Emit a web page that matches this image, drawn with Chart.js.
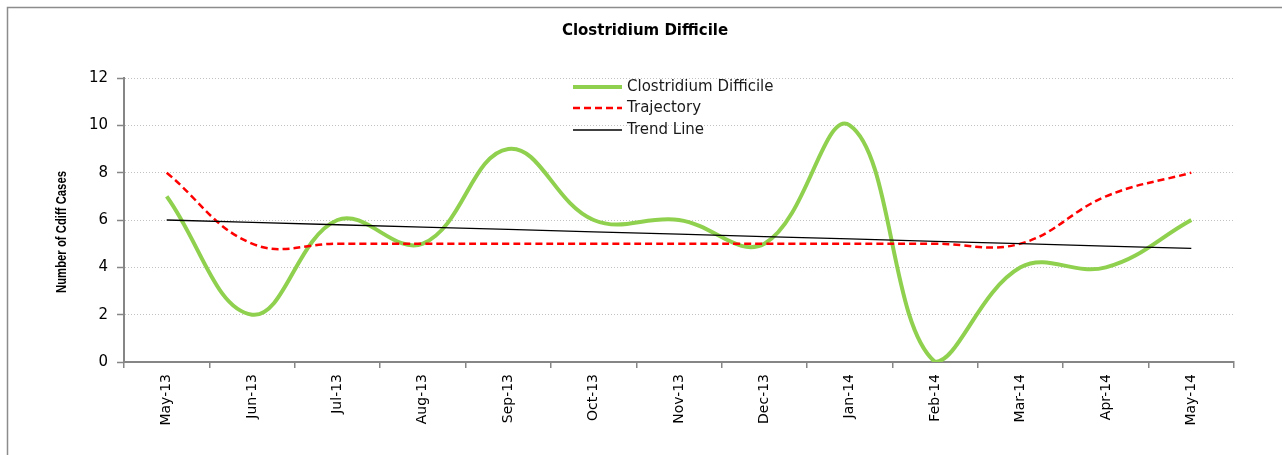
<!DOCTYPE html>
<html>
<head>
<meta charset="utf-8">
<script src="https://cdn.jsdelivr.net/npm/chart.js@4"></script>
<style>
html,body{margin:0;padding:0;background:#fff;}
#wrap{position:relative;width:1282px;height:455px;}
</style>
</head>
<body>
<div id="wrap"><canvas id="c" width="1282" height="455"></canvas></div>
<script>
const months = ["May-13","Jun-13","Jul-13","Aug-13","Sep-13","Oct-13","Nov-13","Dec-13","Jan-14","Feb-14","Mar-14","Apr-14","May-14"];
const cdiffCases = [7,2,6,5,9,6,6,5,10,0,4,4,6];
const trajectory = [8,5,5,5,5,5,5,5,5,5,5,7,8];
const trendLine = [6.0,5.9,5.8,5.7,5.6,5.5,5.4,5.3,5.2,5.1,5.0,4.9,4.8];
const yTicks = [0,2,4,6,8,10,12];
const chartTitle = 'Clostridium Difficile';
const yTitle = 'Number of Cdiff Cases';

const FONT = "'DejaVu Sans', sans-serif";

const frame = {
  id: 'frame',
  beforeDraw(chart) {
    const ctx = chart.ctx;
    ctx.save();
    ctx.fillStyle = '#fff';
    ctx.fillRect(0,0,chart.width,chart.height);
    ctx.strokeStyle = '#8c8c8c';
    ctx.lineWidth = 1.5;
    ctx.strokeRect(7.5, 7.5, chart.width + 20, chart.height + 20);
    ctx.font = "bold 15px " + FONT;
    ctx.fillStyle = '#000';
    ctx.textAlign = 'center';
    ctx.textBaseline = 'middle';
    ctx.fillText(chartTitle, 645, 31);
    ctx.translate(62, 232);
    ctx.rotate(-Math.PI / 2);
    ctx.font = "bold 14.5px 'Liberation Sans', " + FONT;
    ctx.fillText(yTitle, 0, 0, 122);
    ctx.restore();
  }
};

const innerLegend = {
  id: 'innerLegend',
  afterDraw(chart) {
    const ctx = chart.ctx;
    const x0 = 573, x1 = 622, tx = 627;
    const rows = [87, 108, 130];
    ctx.save();
    ctx.font = "15px " + FONT;
    ctx.textBaseline = 'middle';
    ctx.fillStyle = '#1a1a1a';
    chart.data.datasets.forEach((ds, i) => {
      const y = rows[i];
      ctx.beginPath();
      ctx.strokeStyle = ds.borderColor;
      ctx.lineWidth = i === 0 ? 4 : (i === 1 ? 2.5 : 1.5);
      ctx.setLineDash(ds.borderDash || []);
      ctx.moveTo(x0, y);
      ctx.lineTo(x1, y);
      ctx.stroke();
      ctx.setLineDash([]);
      ctx.fillText(ds.label, tx, y);
    });
    ctx.restore();
  }
};

new Chart(document.getElementById('c'), {
  type: 'line',
  data: {
    labels: months,
    datasets: [
      { label: 'Clostridium Difficile', data: cdiffCases, borderColor: '#8fd14f', borderWidth: 4, tension: 0.4, pointRadius: 0, fill: false, order: 3 },
      { label: 'Trajectory', data: trajectory, borderColor: '#ff0000', borderWidth: 2.5, borderDash: [7,4], tension: 0.4, pointRadius: 0, fill: false, order: 2 },
      { label: 'Trend Line', data: trendLine, borderColor: '#000000', borderWidth: 1.3, tension: 0, pointRadius: 0, fill: false, order: 1 }
    ]
  },
  options: {
    responsive: false,
    animation: false,
    events: [],
    layout: { padding: { left: 0, right: 48, top: 78, bottom: 0 } },
    plugins: {
      legend: { display: false },
      tooltip: { enabled: false },
      title: { display: false }
    },
    scales: {
      x: {
        offset: true,
        grid: { display: true, drawOnChartArea: false, drawTicks: true, tickLength: 6, offset: true, color: '#868686', lineWidth: 1.5 },
        border: { display: true, color: '#868686', width: 2 },
        ticks: { color: '#000', font: { family: FONT, size: 14 }, maxRotation: 90, minRotation: 90, autoSkip: false, padding: 6 },
        afterFit(s) { s.height = 93; }
      },
      y: {
        min: 0, max: 12,
        afterBuildTicks(s) { s.ticks = yTicks.map(v => ({ value: v })); },
        grid: { display: true, drawOnChartArea: true, drawTicks: true, tickLength: 7, color: '#c2c2c2', lineWidth: 1, tickColor: '#868686', tickWidth: 1.5 },
        border: { display: true, color: '#868686', width: 2, dash: [1,2] },
        ticks: { color: '#000', font: { family: FONT, size: 15 }, padding: 9 },
        afterFit(s) { s.width = 124; }
      }
    }
  },
  plugins: [frame, innerLegend]
});
</script>
</body>
</html>
